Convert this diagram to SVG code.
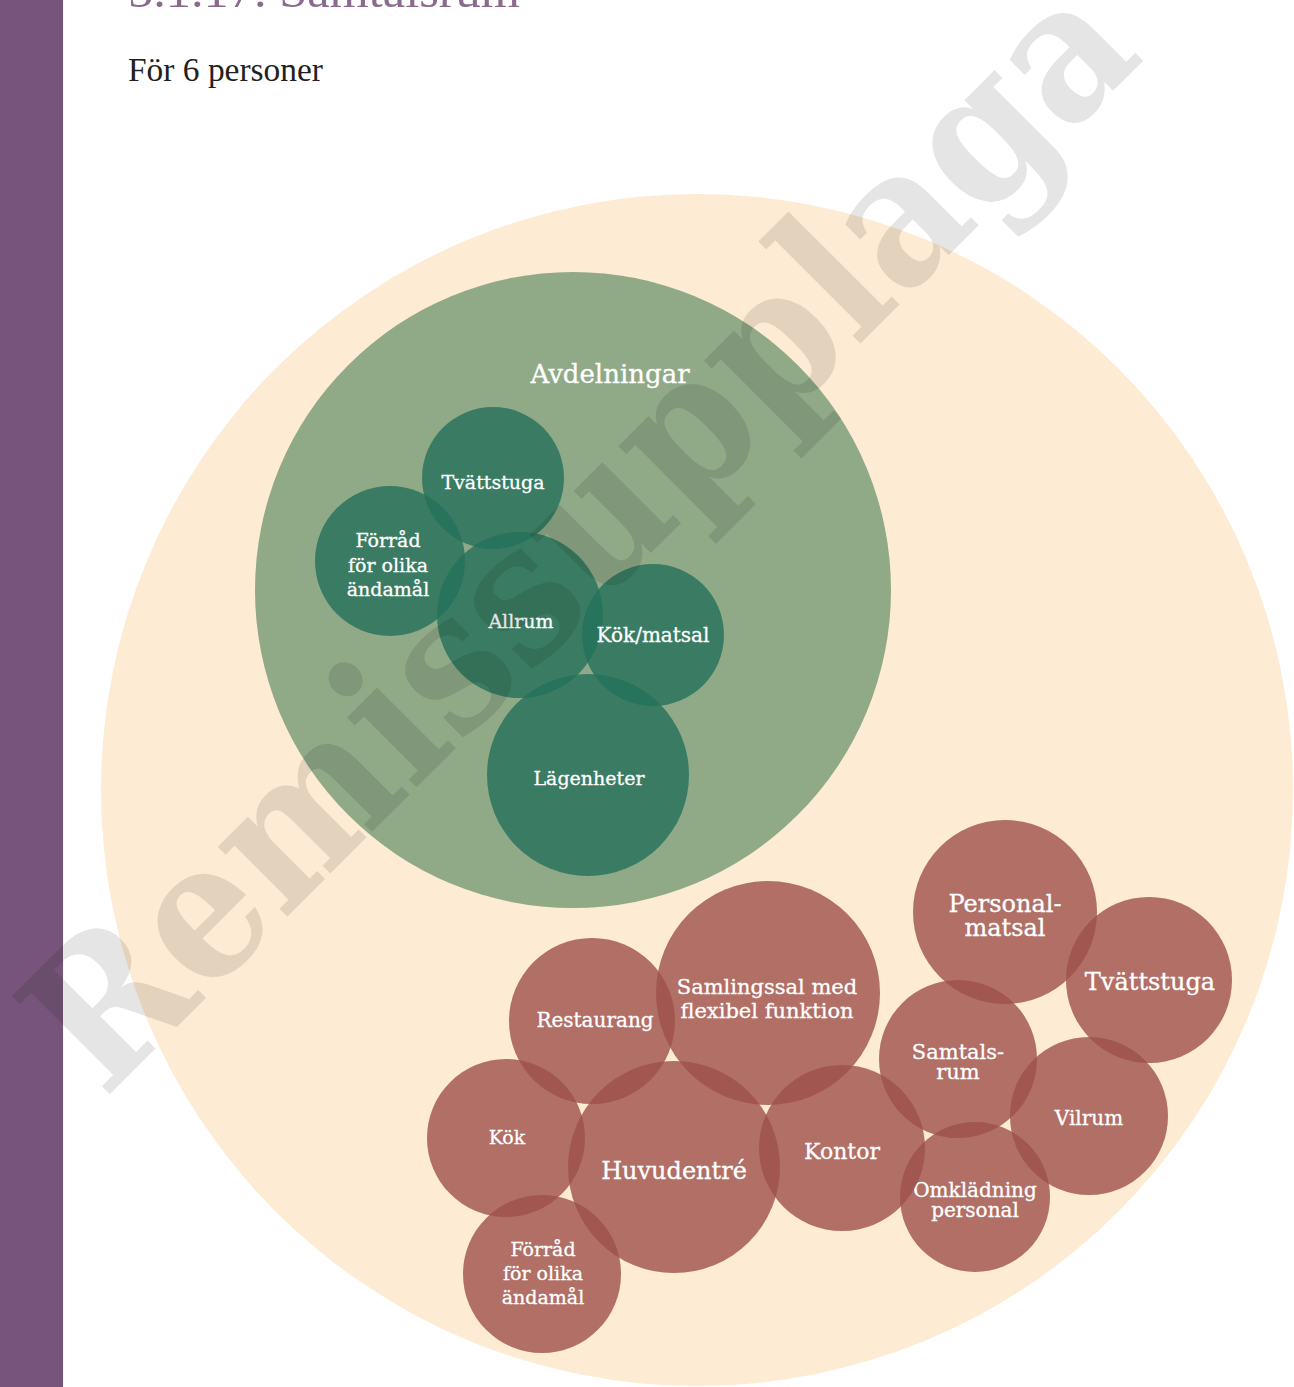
<svg xmlns="http://www.w3.org/2000/svg" width="1294" height="1387" viewBox="0 0 1294 1387">
<style>
.lbl{font-family:"DejaVu Serif","Liberation Serif",serif;fill:#ffffff;stroke:#ffffff;stroke-width:0.3;text-anchor:middle}
.g{fill:#24705a;fill-opacity:0.8}
.r{fill:#9d504b;fill-opacity:0.8}
</style>
<rect x="0" y="0" width="1294" height="1387" fill="#ffffff"/>
<rect x="0" y="0" width="63" height="1387" fill="#77557a"/>
<text x="128" y="7" font-family="Liberation Serif, serif" font-size="46" fill="#8a6b8d" textLength="392" lengthAdjust="spacingAndGlyphs">5.1.17. Samtalsrum</text>
<text x="128" y="81" font-family="Liberation Serif, serif" font-size="33" fill="#231f20" textLength="195" lengthAdjust="spacingAndGlyphs">För 6 personer</text>

<g id="outer"><circle cx="697" cy="790" r="596" fill="#fdebd3"/></g>
<g id="avdelningar">
<circle cx="573" cy="590" r="318" fill="#90a987"/>
<text class="lbl" x="610" y="383" font-size="26">Avdelningar</text>
</g>
<g id="a-tvatt"><circle class="g" cx="493" cy="478" r="71"/><text class="lbl" x="493" y="489" font-size="19">Tvättstuga</text></g>
<g id="a-forrad"><circle class="g" cx="390" cy="561" r="75"/><text class="lbl" font-size="19"><tspan x="388" y="547">Förråd</tspan><tspan x="388" y="572">för olika</tspan><tspan x="388" y="596">ändamål</tspan></text></g>
<g id="a-allrum"><circle class="g" cx="520" cy="615" r="83"/><text class="lbl" x="521" y="628" font-size="19">Allrum</text></g>
<g id="a-kok"><circle class="g" cx="653" cy="635" r="71"/><text class="lbl" x="653" y="642" font-size="20">Kök/matsal</text></g>
<g id="a-lgh"><circle class="g" cx="588" cy="775" r="101"/><text class="lbl" x="589" y="785" font-size="19">Lägenheter</text></g>

<g id="personalmatsal"><circle class="r" cx="1005" cy="912" r="92"/><text class="lbl" font-size="24"><tspan x="1005" y="912">Personal-</tspan><tspan x="1005" y="936">matsal</tspan></text></g>
<g id="tvattstuga"><circle class="r" cx="1149" cy="980" r="83"/><text class="lbl" x="1150" y="990" font-size="24">Tvättstuga</text></g>
<g id="samtalsrum"><circle class="r" cx="958" cy="1059" r="79"/><text class="lbl" font-size="21"><tspan x="958" y="1059">Samtals-</tspan><tspan x="958" y="1079">rum</tspan></text></g>
<g id="vilrum"><circle class="r" cx="1089" cy="1116" r="79"/><text class="lbl" x="1089" y="1125" font-size="20">Vilrum</text></g>
<g id="omkladning"><circle class="r" cx="975" cy="1197" r="75"/><text class="lbl" font-size="20"><tspan x="975" y="1197">Omklädning</tspan><tspan x="975" y="1217">personal</tspan></text></g>
<g id="kontor"><circle class="r" cx="842" cy="1148" r="83"/><text class="lbl" x="842" y="1159" font-size="22">Kontor</text></g>
<g id="samlingssal"><circle class="r" cx="768" cy="993" r="112"/><text class="lbl" font-size="21"><tspan x="767" y="994">Samlingssal med</tspan><tspan x="767" y="1018">flexibel funktion</tspan></text></g>
<g id="restaurang"><circle class="r" cx="592" cy="1021" r="83"/><text class="lbl" x="595" y="1027" font-size="20">Restaurang</text></g>
<g id="kok"><circle class="r" cx="506" cy="1138" r="79"/><text class="lbl" x="507" y="1144" font-size="19">Kök</text></g>
<g id="huvudentre"><circle class="r" cx="674" cy="1167" r="106"/><text class="lbl" x="674" y="1179" font-size="24">Huvudentré</text></g>
<g id="forrad"><circle class="r" cx="542" cy="1274" r="79"/><text class="lbl" font-size="19"><tspan x="543" y="1256">Förråd</tspan><tspan x="543" y="1280">för olika</tspan><tspan x="543" y="1304">ändamål</tspan></text></g>

<g id="connectors"></g>
<text x="104" y="1100" transform="rotate(-45 104 1100)" font-family="DejaVu Serif, serif" font-weight="bold" font-size="190" fill="#000000" fill-opacity="0.1" textLength="1474" lengthAdjust="spacingAndGlyphs">Remissupplaga</text>
</svg>
